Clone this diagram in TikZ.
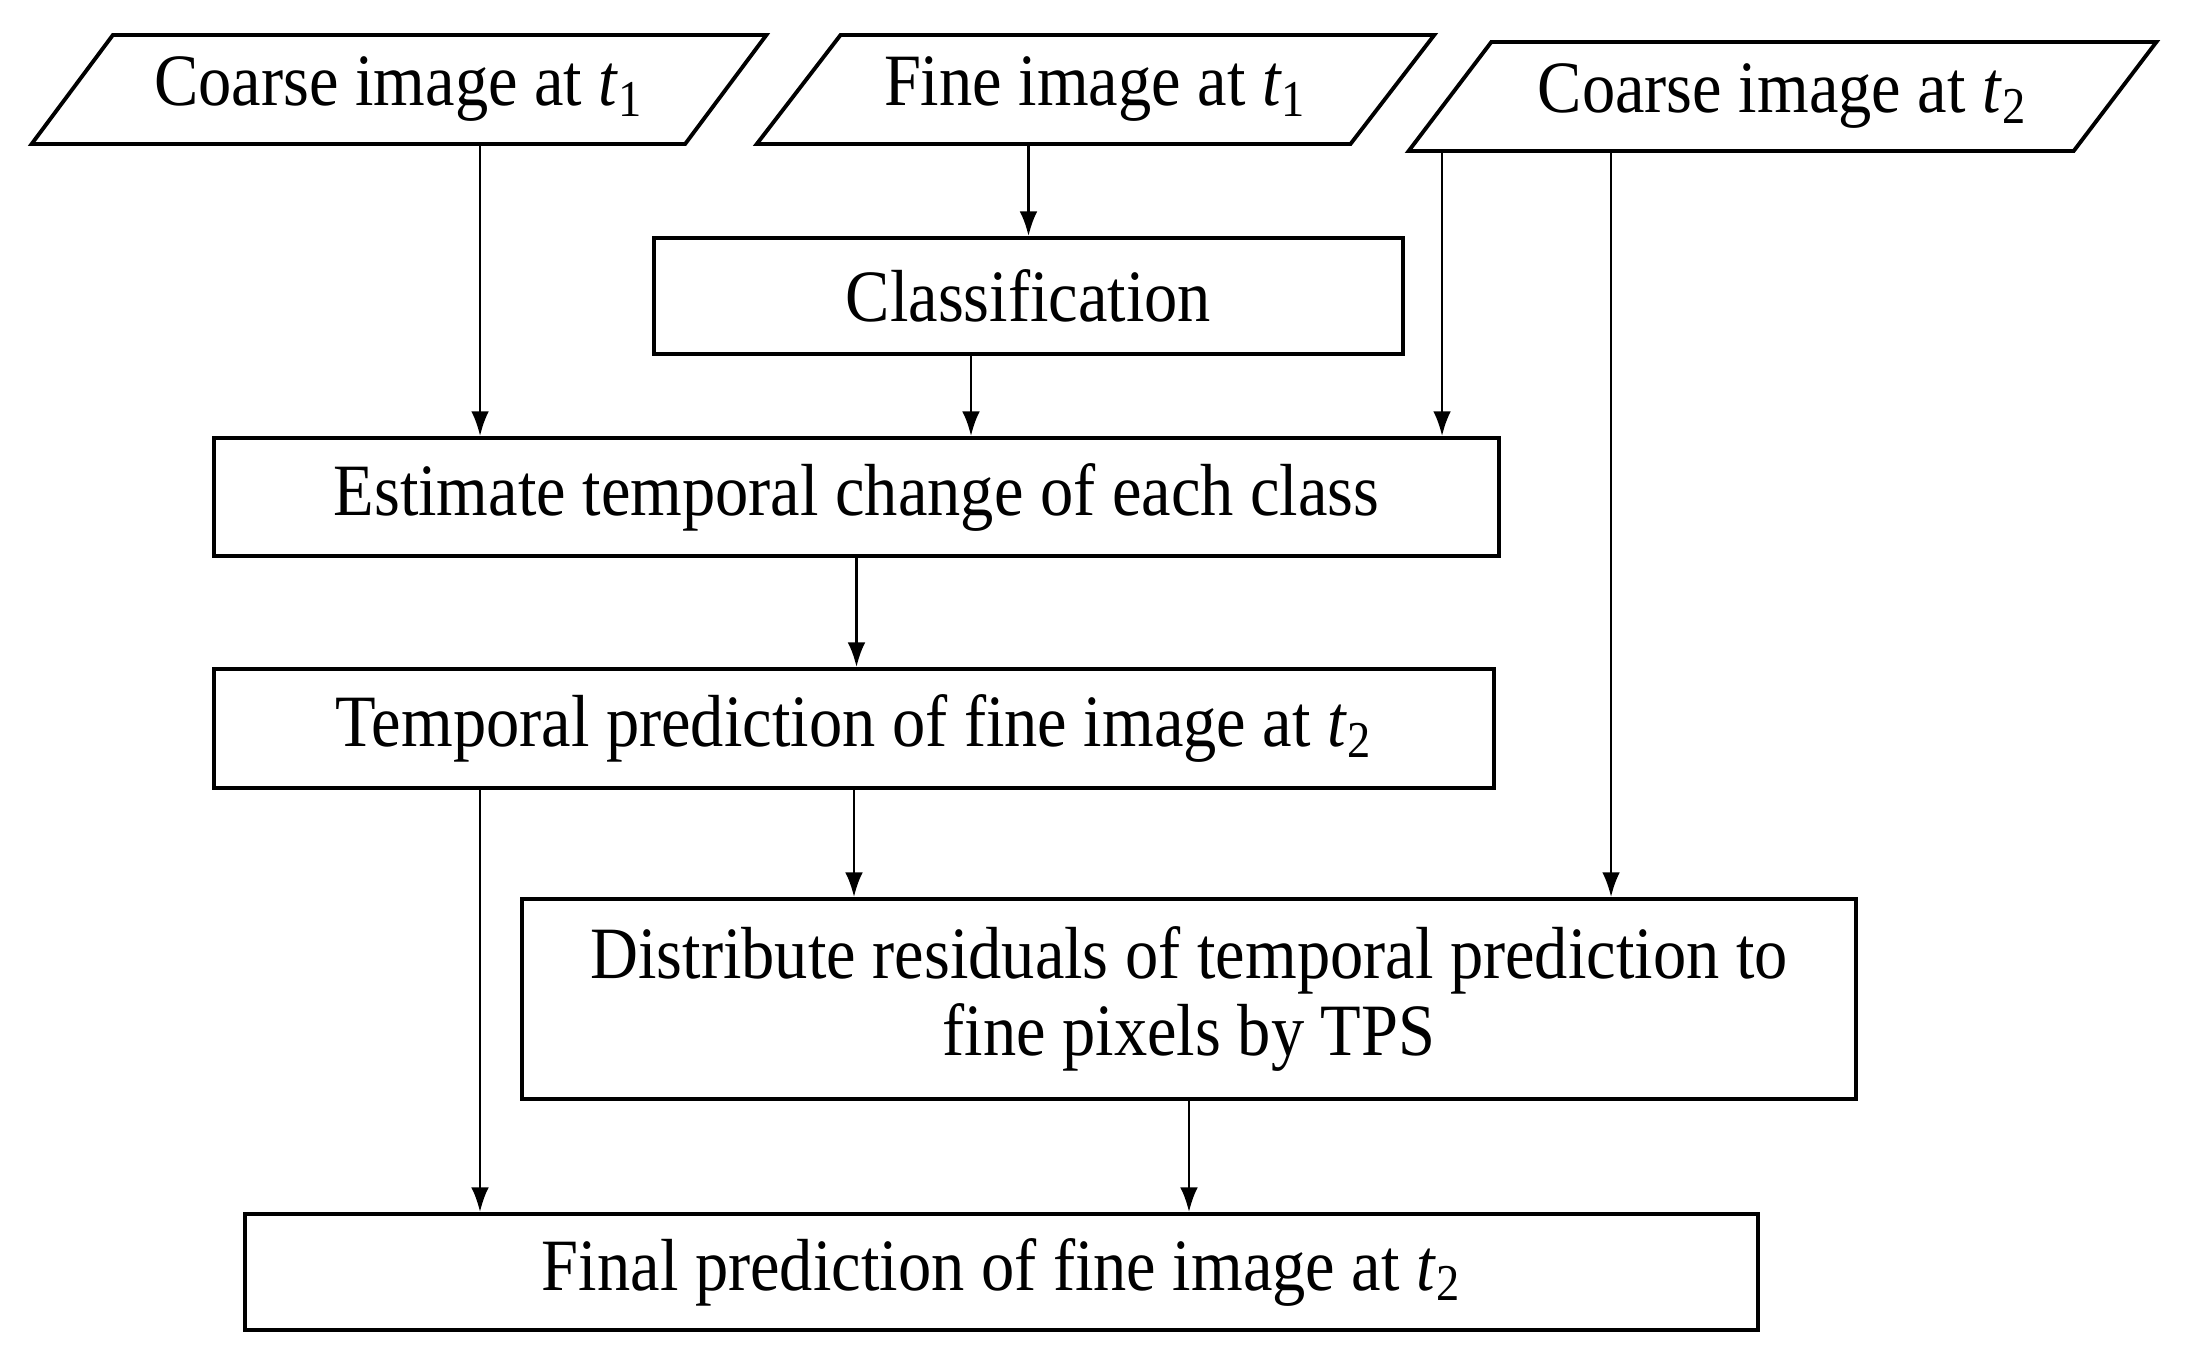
\documentclass[tikz,border=0pt]{standalone}
\usepackage{fontspec}
\setmainfont{Liberation Serif}[FakeStretch=0.9]
\usetikzlibrary{shapes.geometric,arrows.meta}

\begin{document}
\begin{tikzpicture}[
    every node/.style={font=\fontsize{21}{22}\selectfont},
    inbox/.style={draw, line width=1.1pt, trapezium, trapezium left angle=43,
        trapezium right angle=137, trapezium stretches=true,
        minimum height=1.09cm, inner sep=0pt},
    procbox/.style={draw, line width=1.1pt, rectangle, inner sep=0pt, align=center},
    arr/.style={line width=0.75pt, -{Latex[length=7pt,width=5pt]}}
]
    \useasboundingbox (0,0) rectangle (21.96,-13.56);

    % inputs
    \node[inbox, minimum width=7.36cm] (coarseA) at (3.99,-0.895) {Coarse image at \textit{t}\textsubscript{1}};
    \node[inbox, minimum width=6.79cm] (fineA) at (10.955,-0.895) {Fine image at \textit{t}\textsubscript{1}};
    \node[inbox, minimum width=7.49cm] (coarseB) at (17.825,-0.965) {Coarse image at \textit{t}\textsubscript{2}};

    % steps
    \node[procbox, minimum width=7.49cm, minimum height=1.16cm] (classify) at (10.285,-2.96) {Classification};
    \node[procbox, minimum width=12.85cm, minimum height=1.18cm] (change) at (8.565,-4.97) {Estimate temporal change of each class};
    \node[procbox, minimum width=12.80cm, minimum height=1.19cm] (tempfine) at (8.54,-7.285) {Temporal prediction of fine image at \textit{t}\textsubscript{2}};
    \node[procbox, minimum width=13.34cm, minimum height=2.00cm] (residual) at (11.89,-9.99) {Distribute residuals of temporal prediction to\\fine pixels by TPS};
    \node[procbox, minimum width=15.13cm, minimum height=1.16cm] (final) at (10.015,-12.72) {Final prediction of fine image at \textit{t}\textsubscript{2}};

    \draw[arr] ([xshift=0.81cm]coarseA.south) -- ([xshift=0.81cm]coarseA.south |- change.north);
    \draw[arr] (classify.north |- fineA.south) -- (classify.north);
    \draw[arr] ([xshift=-0.575cm]classify.south) -- ([xshift=-0.575cm]classify.south |- change.north);
    \draw[arr] ([xshift=-3.405cm]coarseB.south) -- ([xshift=-3.405cm]coarseB.south |- change.north);
    \draw[arr] ([xshift=-1.715cm]coarseB.south) -- ([xshift=-1.715cm]coarseB.south |- residual.north);
    \draw[arr] (change.south) -- (change.south |- tempfine.north);
    \draw[arr] (tempfine.south) -- (tempfine.south |- residual.north);
    \draw[arr] ([xshift=-3.74cm]tempfine.south) -- ([xshift=-3.74cm]tempfine.south |- final.north);
    \draw[arr] (residual.south) -- (residual.south |- final.north);
\end{tikzpicture}
\end{document}
